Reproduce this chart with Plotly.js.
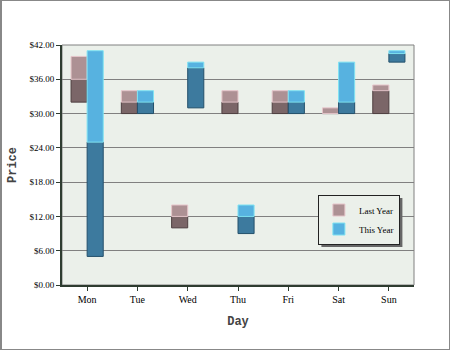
<!DOCTYPE html>
<html>
<head>
<meta charset="utf-8">
<script src="https://cdn.plot.ly/plotly-3.0.1.min.js"></script>
<style>
  html, body { margin: 0; padding: 0; background: #fff; }
  #chart { width: 450px; height: 350px; box-sizing: border-box; border: 1px solid #888; border-left: 2px solid #888; }
</style>
</head>
<body>
<div id="chart"></div>
<script>
const days = ["Mon", "Tue", "Wed", "Thu", "Fri", "Sat", "Sun"];
const lastYearLow  = [32, 30, 10, 30, 30, 30, 30];
const lastYearMid  = [36, 32, 12, 32, 32, 30, 34];
const lastYearHigh = [40, 34, 14, 34, 34, 31, 35];
const thisYearLow  = [5, 30, 31, 9, 30, 30, 39];
const thisYearMid  = [25, 32, 38, 12, 32, 32, 40.5];
const thisYearHigh = [41, 34, 39, 14, 34, 39, 41];
const yTicks = [0, 6, 12, 18, 24, 30, 36, 42];

function diff(a, b) { return a.map((v, i) => v - b[i]); }

function pair(name, low, mid, high, dark, light, darkLine, lightLine) {
  return [
    {
      type: "bar", x: days, y: diff(mid, low), base: low,
      offsetgroup: name, legendgroup: name, showlegend: false,
      marker: { color: dark, line: { color: darkLine, width: 1 } },
      hoverinfo: "skip"
    },
    {
      type: "bar", x: days, y: diff(high, mid), base: mid, name: name,
      offsetgroup: name, legendgroup: name,
      marker: { color: light, line: { color: lightLine, width: 1 } },
      hoverinfo: "skip"
    }
  ];
}

const traces = [
  ...pair("Last Year", lastYearLow, lastYearMid, lastYearHigh, "#7b6668", "#ad9194", "#4e3f41", "#e6c6cb"),
  ...pair("This Year", thisYearLow, thisYearMid, thisYearHigh, "#3d7a9e", "#57b2e0", "#24506b", "#7fe3f2")
];

const serif = "Liberation Serif, DejaVu Serif, serif";
const mono = "Liberation Mono, DejaVu Sans Mono, monospace";

const layout = {
  width: 447, height: 348,
  margin: { l: 60, r: 35, t: 44, b: 64, pad: 0 },
  paper_bgcolor: "#ffffff",
  plot_bgcolor: "#ebf0ea",
  barmode: "group",
  bargap: 0.36,
  bargroupgap: 0,
  showlegend: true,
  legend: {
    x: 0.727, y: 0.377, xanchor: "left", yanchor: "top",
    bgcolor: "#ebf0ea", bordercolor: "#222", borderwidth: 1,
    font: { family: serif, size: 9, color: "#000" },
    tracegroupgap: 0, itemwidth: 30
  },
  xaxis: {
    type: "category",
    showline: true, linecolor: "#2e3c30", linewidth: 2,
    ticks: "outside", ticklen: 4, tickcolor: "#2e3c30", tickwidth: 1,
    showgrid: false,
    tickfont: { family: serif, size: 10, color: "#000" },
    title: { text: "Day", font: { family: mono, size: 12, color: "#444", weight: "bold" }, standoff: 13 }
  },
  yaxis: {
    range: [0, 42], tickvals: yTicks, tickformat: "$.2f",
    showline: true, linecolor: "#2e3c30", linewidth: 2,
    ticks: "outside", ticklen: 4, tickcolor: "#2e3c30", tickwidth: 1,
    showgrid: true, gridcolor: "#808080", gridwidth: 1,
    zeroline: false,
    tickfont: { family: serif, size: 9, color: "#000" },
    title: { text: "Price", font: { family: mono, size: 12, color: "#444", weight: "bold" }, standoff: 10 }
  },
  shapes: [
    { type: "rect", xref: "paper", yref: "paper", x0: 0, x1: 1, y0: 0, y1: 1,
      line: { color: "#808080", width: 1 }, fillcolor: "rgba(0,0,0,0)", layer: "below" }
  ]
};

Plotly.newPlot("chart", traces, layout, { displayModeBar: false, staticPlot: true }).then(gd => {
  // drop shadow behind the legend box, sized from the rendered legend
  const bg = gd.querySelector(".legend .bg");
  if (!bg) return;
  const r = bg.getBoundingClientRect();
  const fs = gd._fullLayout._size;
  const host = gd.getBoundingClientRect();
  const px0 = r.left - host.left - 2 + 3, px1 = r.right - host.left - 2 + 3;
  const py0 = r.top - host.top - 1 + 3, py1 = r.bottom - host.top - 1 + 3;
  const shadow = {
    type: "rect", xref: "paper", yref: "paper",
    x0: (px0 - fs.l) / fs.w, x1: (px1 - fs.l) / fs.w,
    y1: 1 - (py0 - fs.t) / fs.h, y0: 1 - (py1 - fs.t) / fs.h,
    line: { width: 0 }, fillcolor: "#666", layer: "above"
  };
  return Plotly.relayout(gd, { shapes: layout.shapes.concat([shadow]) });
});
</script>
</body>
</html>
